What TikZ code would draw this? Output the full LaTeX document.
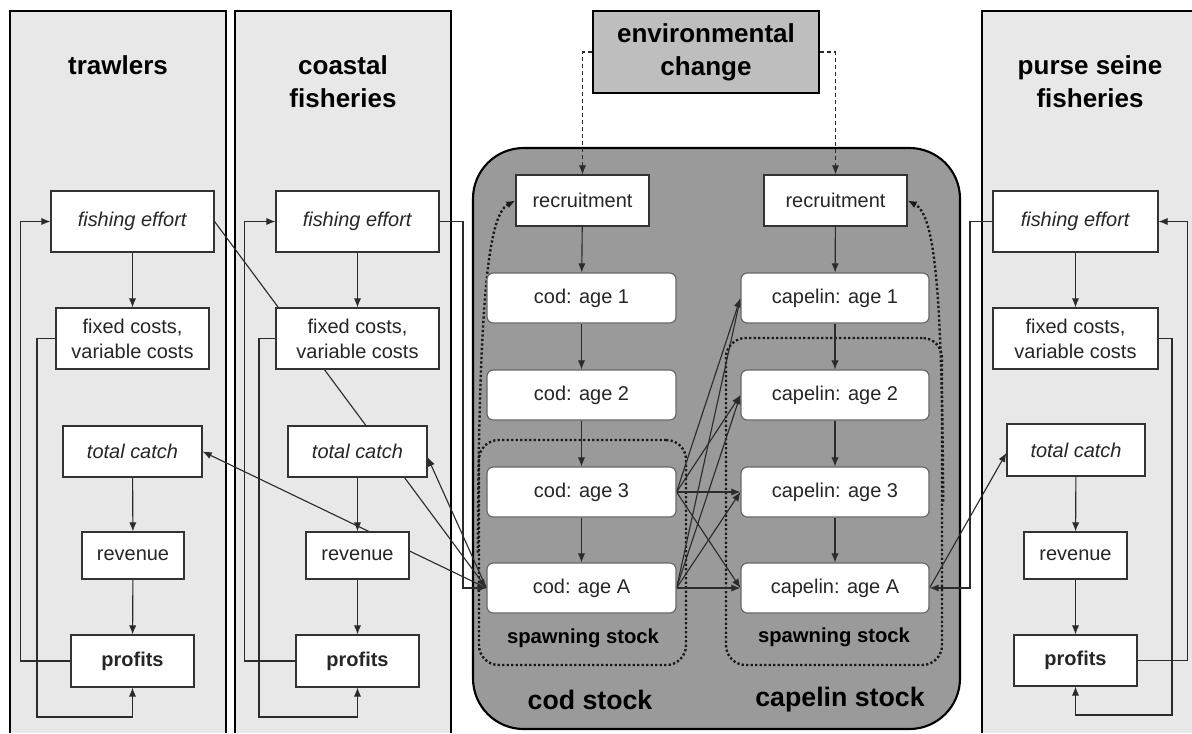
\documentclass[tikz,border=0pt]{standalone}
\usepackage{fontspec}
\setmainfont{Liberation Sans}
\usetikzlibrary{arrows.meta}

\definecolor{panelgray}{HTML}{E8E8E8}
\definecolor{stockgray}{HTML}{9A9A9A}
\definecolor{envgray}{HTML}{BEBEBE}
\definecolor{wiregray}{HTML}{2B2B2B}

\pgfdeclarelayer{panel}
\pgfdeclarelayer{wire}
\pgfsetlayers{panel,wire,main}

\tikzset{
  boxsize/.style 2 args={minimum width=#1*0.025cm, minimum height=#2*0.025cm},
  fishbox/.style={draw=black!80, fill=white, line width=0.8pt, inner sep=1pt, align=center,
    font=\fontsize{14.2}{17.8}\selectfont, text=black!85},
  agebox/.style={fishbox, rounded corners=4.5pt, draw=black!60},
  envbox/.style={draw=black, fill=envgray, line width=1.5pt, align=center,
    font=\fontsize{18.5}{23.5}\selectfont\bfseries},
  paneltitle/.style={align=center, font=\fontsize{18.5}{23.5}\selectfont\bfseries},
  stocktitle/.style={font=\fontsize{19}{23}\selectfont\bfseries},
  spawnlabel/.style={font=\fontsize{14.4}{17}\selectfont\bfseries},
  spawnbox/.style={draw=black!90, line width=1.7pt, dash pattern=on 1.6pt off 1.6pt, rounded corners=14pt},
  wire/.style={draw=wiregray, line width=0.8pt},
  wirearrow/.style={wire, -{Latex[length=6.5pt,width=5.2pt]}},
  envarrow/.style={wirearrow, dash pattern=on 3pt off 2pt},
  dotline/.style={draw=black!90, line width=1.7pt, dash pattern=on 1.6pt off 1.6pt,
    -{Latex[length=6.5pt,width=5.2pt]}},
}

\begin{document}
\begin{tikzpicture}[x=0.025cm, y=-0.025cm]
  \useasboundingbox (0,0) rectangle (1192,733);

  %%%%% panels %%%%%
  \begin{pgfonlayer}{panel}
    \fill[panelgray] (10,11) rectangle (226,733);
    \draw[line width=1.6pt] (10,733) -- (10,11) -- (226,11) -- (226,733);
    \fill[panelgray] (235,11) rectangle (451,733);
    \draw[line width=1.6pt] (235,733) -- (235,11) -- (451,11) -- (451,733);
    \fill[panelgray] (982,11) rectangle (1192,733);
    \draw[line width=1.6pt] (982,733) -- (982,11) -- (1192,11);
    \draw[fill=stockgray, line width=1.5pt, rounded corners=36pt] (473,148) rectangle (960,729);
  \end{pgfonlayer}

  \node[paneltitle] (ttitle) at (118,65) {trawlers};
  \node[paneltitle] (ctitle) at (343,81.5) {coastal\\fisheries};
  \node[paneltitle] (ptitle) at (1090,81.5) {purse seine\\fisheries};
  \node[envbox, boxsize={226}{82}] (env) at (706,52) {environmental\\change};

  %%%%% trawlers %%%%%
  \node[fishbox, boxsize={163}{61}] (te) at (132.5,221.5) {\textit{fishing effort}};
  \node[fishbox, boxsize={153}{61}] (tf) at (132.5,338.5) {fixed costs,\\variable costs};
  \node[fishbox, boxsize={139}{51}] (tc) at (132.5,451.5) {\textit{total catch}};
  \node[fishbox, boxsize={102}{47}] (tr) at (133,555.5) {revenue};
  \node[fishbox, boxsize={123}{52}] (tp) at (132.5,661) {\textbf{profits}};

  %%%%% coastal fisheries %%%%%
  \node[fishbox, boxsize={163}{61}] (ce) at (357.5,221.5) {\textit{fishing effort}};
  \node[fishbox, boxsize={163}{61}] (cf) at (357.5,338.5) {fixed costs,\\variable costs};
  \node[fishbox, boxsize={139}{51}] (cc) at (357.5,451.5) {\textit{total catch}};
  \node[fishbox, boxsize={103}{47}] (cr) at (357.5,555.5) {revenue};
  \node[fishbox, boxsize={123}{52}] (cp) at (357.5,661) {\textbf{profits}};

  %%%%% purse seine fisheries %%%%%
  \node[fishbox, boxsize={165}{61}] (pe) at (1075.5,221.5) {\textit{fishing effort}};
  \node[fishbox, boxsize={165}{61}] (pf) at (1075.5,338.5) {fixed costs,\\variable costs};
  \node[fishbox, boxsize={138}{52}] (pc) at (1076,450) {\textit{total catch}};
  \node[fishbox, boxsize={103}{47}] (pr) at (1075.5,555.5) {revenue};
  \node[fishbox, boxsize={123}{51}] (pp) at (1075.5,660.5) {\textbf{profits}};

  %%%%% stocks %%%%%
  \node[fishbox, boxsize={133}{51}] (codrec) at (582.5,200.5) {recruitment};
  \node[agebox, boxsize={189}{50}] (cod1) at (581.5,298) {cod: age 1};
  \node[agebox, boxsize={189}{50}] (cod2) at (581.5,395) {cod: age 2};
  \node[agebox, boxsize={189}{50}] (cod3) at (581.5,492) {cod: age 3};
  \node[agebox, boxsize={189}{50}] (codA) at (581.5,588) {cod: age A};

  \node[fishbox, boxsize={143}{51}] (caprec) at (835.5,200.5) {recruitment};
  \node[agebox, boxsize={188}{50}] (cap1) at (835,298) {capelin: age 1};
  \node[agebox, boxsize={188}{50}] (cap2) at (835,395) {capelin: age 2};
  \node[agebox, boxsize={188}{50}] (cap3) at (835,492) {capelin: age 3};
  \node[agebox, boxsize={188}{50}] (capA) at (835,588) {capelin: age A};

  \node[spawnlabel] (codspawnlbl) at (583,638) {spawning stock};
  \node[spawnlabel] (capspawnlbl) at (834,637) {spawning stock};
  \node[stocktitle] (codname) at (590,700) {cod stock};
  \node[stocktitle] (capname) at (840,700) {capelin stock};

  \begin{pgfonlayer}{wire}
    \node[spawnbox, boxsize={207}{225}] (codspawn) at (582.5,552.5) {};
    \node[spawnbox, boxsize={216}{327}] (capspawn) at (834,501.5) {};

    % inside the fleets
    \foreach \a/\b in {te/tf,tc/tr,tr/tp,ce/cf,cc/cr,cr/cp,pe/pf,pc/pr,pr/pp}
      \draw[wirearrow] (\a) -- (\b);
    \draw[wirearrow] (tp.west) -- ++(-50,0) |- (te.west);
    \draw[wirearrow] (tf.west) -| (37,717) -| (tp.south);
    \draw[wirearrow] (cp.west) -- ++(-51,0) |- (ce.west);
    \draw[wirearrow] (cf.west) -| (259,717) -| (cp.south);
    \draw[wirearrow] (pp.east) -- ++(50,0) |- (pe.east);
    \draw[wirearrow] (pf.east) -| (1172,715) -| (pp.south);

    % fleets and stocks
    \draw[wirearrow] (te.east) -- (codA.west);
    \draw[wirearrow] (ce.east) -| (463,588) -- (codA.west);
    \draw[wirearrow] (codA.west) -- (tc.east);
    \draw[wirearrow] (codA.west) -- ([yshift=-4pt]cc.east);
    \draw[wirearrow] (pe.west) -| (970,588) -- (capA.east);
    \draw[wirearrow] (capA.east) -- ([yshift=-2pt]pc.west);

    % ages
    \foreach \a/\b in {codrec/cod1,cod1/cod2,cod2/cod3,cod3/codA,caprec/cap1,cap1/cap2,cap2/cap3,cap3/capA}
      \draw[wirearrow] (\a) -- (\b);
    \foreach \s in {cod3,codA}
      \foreach \t in {cap1,cap2,cap3,capA}
        \draw[wirearrow] (\s.east) -- (\t.west);

    % recruitment from spawning stock
    \draw[dotline] (codspawn.west) .. controls (479,300) and (488,215) .. (codrec.west);
    \draw[dotline] (capspawn.east) .. controls (942,300) and (936,215) .. (caprec.east);

    % environment
    \draw[envarrow] (env.west) -| (codrec.north);
    \draw[envarrow] (env.east) -| (caprec.north);
  \end{pgfonlayer}
\end{tikzpicture}
\end{document}
